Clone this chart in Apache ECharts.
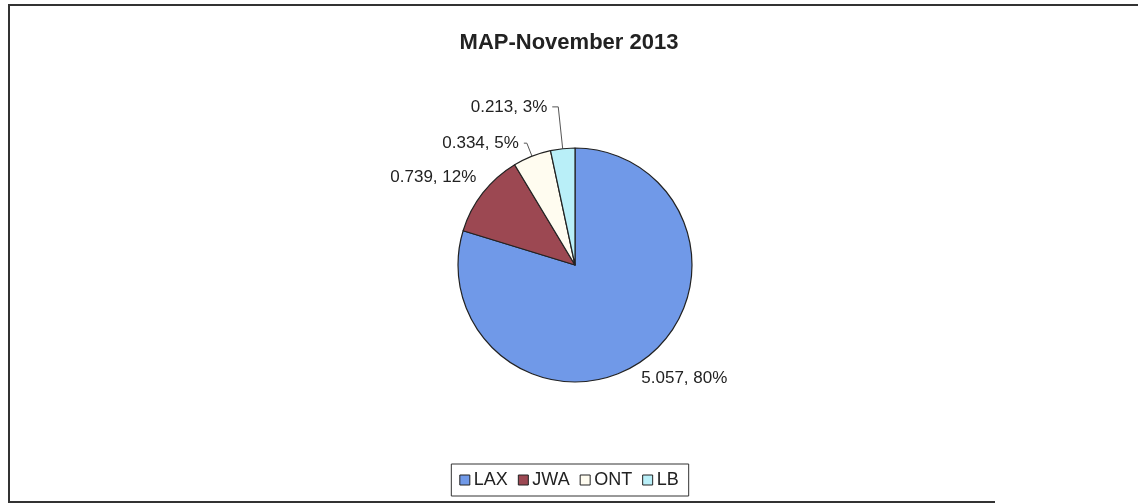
<!DOCTYPE html>
<html lang="en">
<head>
    <meta charset="utf-8">
    <script src="https://cdn.jsdelivr.net/npm/echarts@6/dist/echarts.min.js"></script>
    <style>
        html, body { margin: 0; padding: 0; background: #fff; }
        #chart { width: 1138px; height: 504px; }
    </style>
</head>
<body>
<div id="chart"></div>
<script>
    var categories = ['LAX', 'JWA', 'ONT', 'LB'];
    var values = [5.057, 0.739, 0.334, 0.213];
    var colors = ['#7099e8', '#9c4852', '#fffcf0', '#b9eff8'];

    // label line lengths per slice (LAX and JWA have no visible leader)
    var lineLen = [18, 12, 14, 42];
    var lineLen2 = [0, 0, 3, 6];
    var lineShow = [false, false, true, true];
    var labelShift = [[-19, 5], [8, -8], [0, 0], [0, 0]];

    var chart = echarts.init(document.getElementById('chart'));

    var pieData = [];
    for (var i = 0; i < categories.length; i++) {
        pieData.push({
            name: categories[i],
            value: values[i],
            itemStyle: { color: colors[i] },
            labelLine: { show: lineShow[i], length: lineLen[i], length2: lineLen2[i] }
        });
    }

    var font = 'Liberation Sans, Arial';

    var option = {
        backgroundColor: '#fff',
        animation: false,
        title: {
            text: 'MAP-November 2013',
            left: 'center',
            top: 27,
            textStyle: { fontFamily: font, fontSize: 22, fontWeight: 'bold', color: '#222' }
        },
        legend: {
            data: categories,
            top: 464,
            left: 'center',
            icon: 'rect',
            itemWidth: 10,
            itemHeight: 10,
            itemGap: 10,
            padding: [7, 10, 7, 8],
            borderColor: '#333',
            borderWidth: 1,
            textStyle: { fontFamily: font, fontSize: 18, color: '#222', padding: [0, 0, 0, -1] },
            itemStyle: { borderColor: '#222', borderWidth: 1 }
        },
        graphic: [{
            type: 'polyline',
            shape: { points: [[1140, 5], [9, 5], [9, 502], [995, 502]] },
            style: { fill: 'none', stroke: '#333', lineWidth: 2 },
            silent: true
        }],
        series: [{
            type: 'pie',
            center: [575, 265],
            radius: 117,
            startAngle: 90,
            clockwise: true,
            data: pieData,
            itemStyle: { borderColor: '#222', borderWidth: 1.2 },
            label: {
                show: true,
                position: 'outside',
                fontFamily: font,
                fontSize: 17,
                color: '#222',
                formatter: function (p) {
                    return p.value + ', ' + Math.round(p.percent) + '%';
                }
            },
            labelLine: { lineStyle: { color: '#555', width: 1 } },
            labelLayout: function (params) {
                var s = labelShift[params.dataIndex];
                return { dx: s[0], dy: s[1] };
            },
            emphasis: { disabled: true }
        }]
    };

    chart.setOption(option);
</script>
</body>
</html>
